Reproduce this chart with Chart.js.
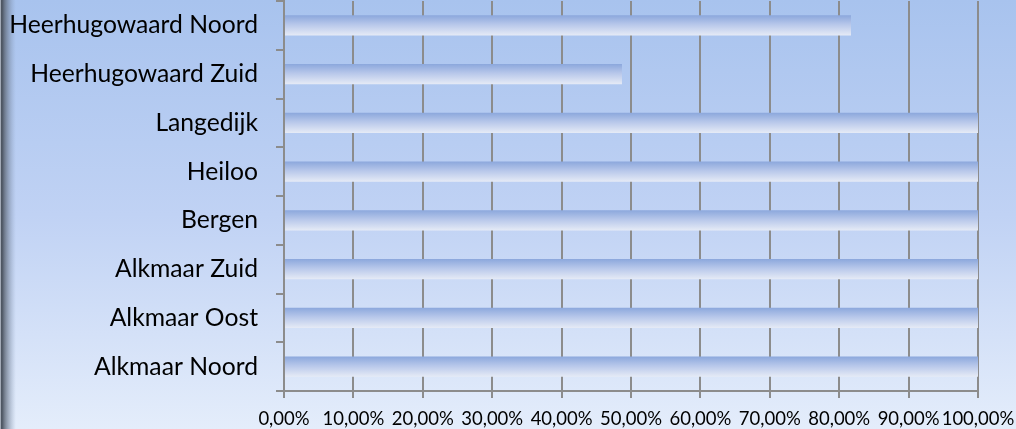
<!DOCTYPE html>
<html>
<head>
<meta charset="utf-8">
<script src="https://cdn.jsdelivr.net/npm/chart.js@4.4.0/dist/chart.umd.min.js"></script>
<style>
  html, body { margin: 0; padding: 0; background: #fff; }
  #wrap { width: 1016px; height: 429px; }
</style>
</head>
<body>
<div id="wrap"><canvas id="chart" width="1016" height="429"></canvas></div>
<script>
// regions, listed bottom to top as in the sheet
const categories = ['Alkmaar Noord', 'Alkmaar Oost', 'Alkmaar Zuid', 'Bergen', 'Heiloo', 'Langedijk', 'Heerhugowaard Zuid', 'Heerhugowaard Noord'];
const percentages = [100, 100, 100, 100, 100, 100, 48.7, 81.7];
const xMin = 0;
const xMax = 100;
const xStep = 10;

const barPct = 0.42;
const gridColor = '#8c8c8c';

const backgroundPlugin = {
    id: 'sheetBackground',
    beforeDraw(chart) {
        const { ctx, width, height } = chart;
        ctx.save();
        const bg = ctx.createLinearGradient(0, 0, 0, height);
        bg.addColorStop(0, '#a8c3ee');
        bg.addColorStop(0.5, '#c0d2f4');
        bg.addColorStop(1, '#e4edfb');
        ctx.fillStyle = bg;
        ctx.fillRect(0, 0, width, height);

        // dark frame edge on the left
        const edge = ctx.createLinearGradient(0, 0, 16, 0);
        edge.addColorStop(0, 'rgba(205,212,224,1)');
        edge.addColorStop(0.1, 'rgba(70,78,90,1)');
        edge.addColorStop(0.3, 'rgba(95,105,120,0.8)');
        edge.addColorStop(1, 'rgba(140,160,190,0)');
        ctx.fillStyle = edge;
        ctx.fillRect(0, 0, 16, height);
        ctx.restore();
    }
};

function barFill(c) {
    const chart = c.chart;
    const y = chart.scales.y;
    if (!y || c.dataIndex == null || !isFinite(y.top)) return '#b9c9ea';
    const center = y.getPixelForValue(c.dataIndex);
    const half = (y.height / categories.length) * barPct / 2;
    const g = chart.ctx.createLinearGradient(0, center - half, 0, center + half);
    g.addColorStop(0, '#8ba7dc');
    g.addColorStop(0.45, '#b7c7ea');
    g.addColorStop(1, '#e6ebf6');
    return g;
}

new Chart(document.getElementById('chart'), {
    type: 'bar',
    data: {
        labels: categories,
        datasets: [{
            data: percentages,
            backgroundColor: barFill,
            borderWidth: 0,
            barPercentage: barPct,
            categoryPercentage: 1
        }]
    },
    options: {
        indexAxis: 'y',
        responsive: false,
        animation: false,
        layout: { padding: { top: 1, right: 38, left: 0, bottom: 0 } },
        plugins: {
            legend: { display: false },
            tooltip: { enabled: false }
        },
        scales: {
            x: {
                min: xMin,
                max: xMax,
                grid: { color: gridColor, lineWidth: 2, tickLength: 7 },
                border: { color: gridColor, width: 2 },
                ticks: {
                    stepSize: xStep,
                    autoSkip: false,
                    maxRotation: 0,
                    padding: 10,
                    color: '#000',
                    font: { family: 'Lato', size: 18.5 },
                    callback: v => v.toFixed(2).replace('.', ',') + '%'
                },
                afterFit: s => {
                    s.height = 38;
                    s.paddingLeft = 0;
                    s.paddingRight = 0;
                }
            },
            y: {
                reverse: true,
                grid: { color: gridColor, lineWidth: 2, tickLength: 8, drawOnChartArea: false, offset: true },
                border: { color: gridColor, width: 2 },
                ticks: {
                    padding: 18,
                    color: '#000',
                    font: { family: 'Lato', size: 24.7 }
                },
                afterFit: s => {
                    s.width = 284;
                    s.paddingTop = 0;
                    s.paddingBottom = 0;
                }
            }
        }
    },
    plugins: [backgroundPlugin]
});
</script>
</body>
</html>
